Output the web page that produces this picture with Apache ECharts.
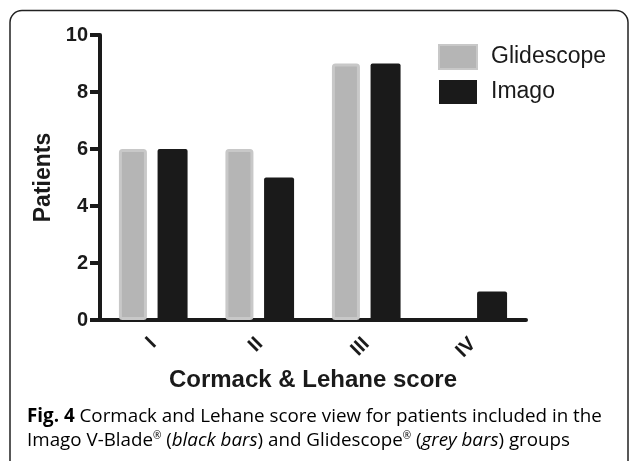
<!DOCTYPE html>
<html>
<head>
<meta charset="utf-8">
<script src="https://cdn.jsdelivr.net/npm/echarts@6/dist/echarts.min.js"></script>
<style>
html,body{margin:0;padding:0;background:#fff;}
#chart{width:630px;height:461px;}
</style>
</head>
<body>
<div id="chart"></div>
<script>
var categories = ['I', 'II', 'III', 'IV'];
var glidescope = [6, 6, 9, 0];
var imago = [6, 5, 9, 1];
var yTicks = [0, 2, 4, 6, 8, 10];

var chart = echarts.init(document.getElementById('chart'), null, {renderer: 'canvas'});
var axisColor = '#1a1a1a';
var font = 'Liberation Sans';

function greyItem(v) {
  return v === 0 ? {value: v, itemStyle: {borderWidth: 0}} : v;
}

chart.setOption({
  animation: false,
  backgroundColor: '#fff',
  textStyle: {fontFamily: font},
  grid: {left: 100, right: 104, top: 35, bottom: 141, containLabel: false},
  legend: {
    left: 438, top: 44, orient: 'vertical', padding: 0,
    itemWidth: 38, itemHeight: 24, itemGap: 10,
    icon: 'rect',
    textStyle: {fontSize: 23, color: '#1a1a1a', fontFamily: font, padding: [0, 0, 0, 9]},
    data: ['Glidescope', 'Imago']
  },
  xAxis: {
    type: 'category',
    data: categories,
    name: 'Cormack & Lehane score',
    nameLocation: 'middle',
    nameGap: 47,
    nameTextStyle: {fontSize: 24, fontWeight: 'bold', color: axisColor, fontFamily: font},
    axisLine: {lineStyle: {color: axisColor, width: 4}},
    axisTick: {alignWithLabel: true, length: 10, lineStyle: {color: axisColor, width: 4}},
    axisLabel: {rotate: 45, margin: 21, fontSize: 20, fontWeight: 'bold', color: axisColor, fontFamily: font},
    splitLine: {show: false}
  },
  yAxis: {
    type: 'value',
    min: yTicks[0], max: yTicks[yTicks.length - 1], interval: 2,
    name: 'Patients',
    nameLocation: 'middle',
    nameGap: 40,
    nameTextStyle: {fontSize: 23, fontWeight: 'bold', color: axisColor, fontFamily: font},
    axisLine: {show: true, lineStyle: {color: axisColor, width: 4}},
    axisTick: {show: true, length: 10, lineStyle: {color: axisColor, width: 4}},
    axisLabel: {margin: 12, fontSize: 20, fontWeight: 'bold', color: axisColor, fontFamily: font},
    splitLine: {show: false}
  },
  series: [
    {
      name: 'Glidescope', type: 'bar', data: glidescope.map(greyItem),
      barWidth: 28, barGap: '38%',
      itemStyle: {color: '#b5b5b5', borderColor: '#c8c8c8', borderWidth: 3, borderRadius: 2}
    },
    {
      name: 'Imago', type: 'bar', data: imago,
      barWidth: 30,
      itemStyle: {color: '#1a1a1a', borderRadius: 2}
    }
  ],
  graphic: [
    {
      type: 'rect', silent: true, z: 100,
      shape: {x: 10, y: 10.5, width: 618, height: 470, r: 12},
      style: {fill: 'none', stroke: '#222', lineWidth: 1.5}
    },
    {
      type: 'text', left: 27, top: 405, silent: true,
      style: {
        text: '{b|Fig. 4 }{r|Cormack and Lehane score view for patients included in the}\n{r|Imago V-Blade}{s|®}{r| (}{i|black bars}{r|) and Glidescope}{s|®}{r| (}{i|grey bars}{r|) groups}',
        lineHeight: 24,
        rich: {
          b: {fontFamily: 'Open Sans', fontWeight: 'bold', fontSize: 18.8, color: '#1a1a1a', lineHeight: 24},
          r: {fontFamily: 'Open Sans', fontSize: 18.8, color: '#333', lineHeight: 24},
          i: {fontFamily: 'Open Sans', fontStyle: 'italic', fontSize: 18.8, color: '#333', lineHeight: 24},
          s: {fontFamily: 'Open Sans', fontSize: 10, color: '#333', lineHeight: 24, verticalAlign: 'top', padding: [2, 0, 0, 0]}
        }
      }
    }
  ]
});
</script>
</body>
</html>
